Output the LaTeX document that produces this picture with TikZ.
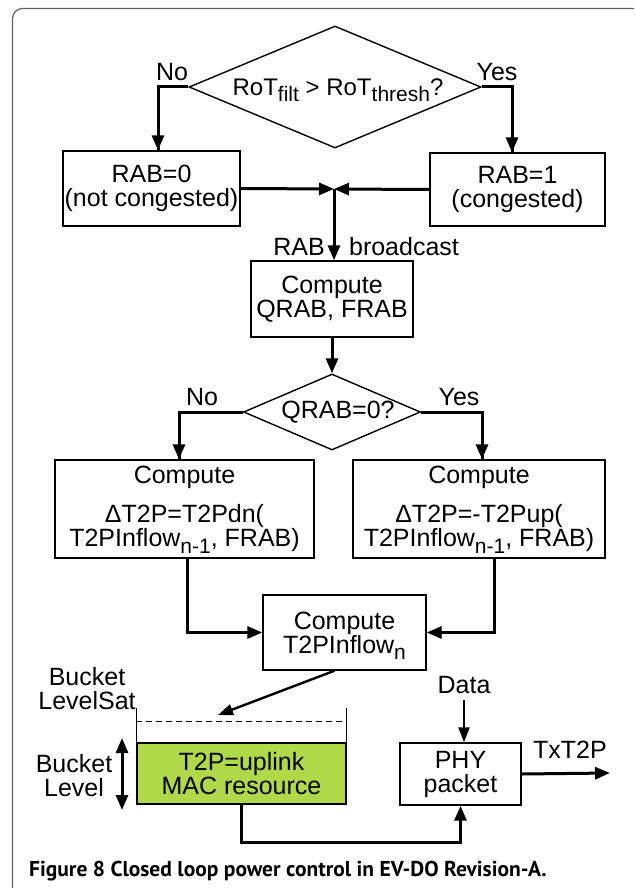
\documentclass[tikz,border=0pt]{standalone}
\usepackage{fontspec}
\setmainfont{Liberation Sans}
\newfontfamily\capfont{PT Sans}
\usetikzlibrary{arrows.meta,shapes.geometric}
\definecolor{macgreen}{RGB}{176,217,74}
\definecolor{framegray}{RGB}{100,100,100}
\newcommand{\sbs}[1]{\smash{\raisebox{-6.5pt}{\fontsize{21}{21}\selectfont #1}}}
\begin{document}
\begin{tikzpicture}[x=1pt,y=-1pt,
  txt/.style={font=\fontsize{25}{24}\selectfont, inner sep=0pt, align=center},
  box/.style={txt, draw, line width=1.4pt, rectangle},
  dia/.style={draw, diamond, line width=1.4pt, inner sep=0pt},
  conn/.style={line width=3pt, -{Triangle[length=15pt,width=12pt]}},
  thinconn/.style={line width=2.4pt, -{Triangle[length=15pt,width=11pt]}},
  dblconn/.style={line width=3pt, {Triangle[length=15pt,width=12pt]}-{Triangle[length=15pt,width=12pt]}},
  wall/.style={line width=1.4pt}]
\useasboundingbox (0,0) rectangle (634,888);
\clip (0,0) rectangle (634,888);
\draw[framegray, line width=1.2pt, rounded corners=10pt] (12.5,8.5) rectangle (700,950);

% top decision
\node[dia, minimum width=292, minimum height=122] (d1) at (335,87) {};
\node[txt, font=\fontsize{24}{24}\selectfont] (d1t) at (338,87) {RoT\sbs{filt} > RoT\sbs{thresh}?};
\node[txt] (no1) at (172,72) {No};
\node[txt] (yes1) at (497,72) {Yes};

\node[box, minimum width=177, minimum height=75] (rab0) at (151.5,188.5) {RAB=0\\(not congested)};
\node[box, minimum width=175, minimum height=73] (rab1) at (517.5,189.5) {RAB=1\\(congested)};
\coordinate (j) at (334,189);

\node[box, minimum width=162, minimum height=76] (qrab) at (332,299) {Compute\\QRAB, FRAB};
\node[txt] (rabl) at (299,247) {RAB};
\node[txt] (bcl) at (404,247) {broadcast};

% second decision
\node[dia, minimum width=177, minimum height=76] (d2) at (332,412) {};
\node[txt] (d2t) at (338,412) {QRAB=0?};
\node[txt] (no2) at (202,397) {No};
\node[txt] (yes2) at (459,397) {Yes};

\node[box, minimum width=259, minimum height=98] (lbox) at (184.5,509) {Compute\\[15pt]ΔT2P=T2Pdn(\\T2PInflow\sbs{n-1}, FRAB)};
\node[box, minimum width=252, minimum height=98] (rbox) at (479,509) {Compute\\[15pt]ΔT2P=-T2Pup(\\T2PInflow\sbs{n-1}, FRAB)};

\node[box, minimum width=163, minimum height=75] (t2p) at (344.5,632.5) {Compute\\T2PInflow\sbs{n}};

% bucket
\node[box, fill=macgreen, minimum width=209, minimum height=61] (mac) at (241.5,773.5) {T2P=uplink\\MAC resource};
\draw[wall] (mac.north west) -- ([yshift=34pt]mac.north west);
\draw[wall] (mac.north east) -- ([yshift=34pt]mac.north east);
\draw[line width=1.4pt, dash pattern=on 6pt off 4pt] ([yshift=21pt]mac.north west) -- ([yshift=21pt]mac.north east);
\coordinate (bk) at (218,715);
\node[txt] (bls) at (87,689) {Bucket\\LevelSat};
\node[txt] (bl) at (74,776) {Bucket\\Level};
\coordinate (ba1) at (122,738);
\coordinate (ba2) at (122,810);

\node[box, minimum width=121, minimum height=62] (phy) at (460.5,774) {PHY\\packet};
\node[txt] (data) at (464,685.5) {Data};
\node[txt] (txl) at (570,750) {TxT2P};
\coordinate (out) at (610,773);

% connectors
\draw[line width=3pt] (d1.west) -| ([xshift=6.5]rab0.north);
\draw[conn] ([xshift=6.5,yshift=34]rab0.north) -- ([xshift=6.5]rab0.north);
\draw[line width=3pt] (d1.east) -| ([xshift=-5.5]rab1.north);
\draw[conn] ([xshift=-5.5,yshift=34]rab1.north) -- ([xshift=-5.5]rab1.north);
\draw[conn] (rab0.east) -- (j);
\draw[conn] (rab1.west) -- (j);
\draw[conn] (j) -- (j |- qrab.north);
\draw[conn] (qrab.south) -- (d2.north);
\draw[line width=3pt] (d2.west) -| ([xshift=-5.5]lbox.north);
\draw[conn] ([xshift=-5.5,yshift=26]lbox.north) -- ([xshift=-5.5]lbox.north);
\draw[line width=3pt] (d2.east) -| ([xshift=3]rbox.north);
\draw[conn] ([xshift=3,yshift=26]rbox.north) -- ([xshift=3]rbox.north);
\draw[conn] ([xshift=2.5]lbox.south) |- (t2p.west);
\draw[conn] ([xshift=15]rbox.south) |- (t2p.east);
\draw[thinconn] ([xshift=-10]t2p.south) -- (bk);
\draw[dblconn] (ba1) -- (ba2);
\draw[thinconn, shorten <=6pt] (data.south) -- (data.south |- phy.north);
\draw[conn] (mac.south) -- ++(0,38) -| (phy.south);
\draw[conn] (phy.east) -- (out);

\node[anchor=base west, inner sep=0pt, font=\capfont\bfseries\fontsize{21.5}{21.5}\selectfont] (cap) at (29,876) {Figure 8 Closed loop power control in EV-DO Revision-A.};
\end{tikzpicture}
\end{document}
